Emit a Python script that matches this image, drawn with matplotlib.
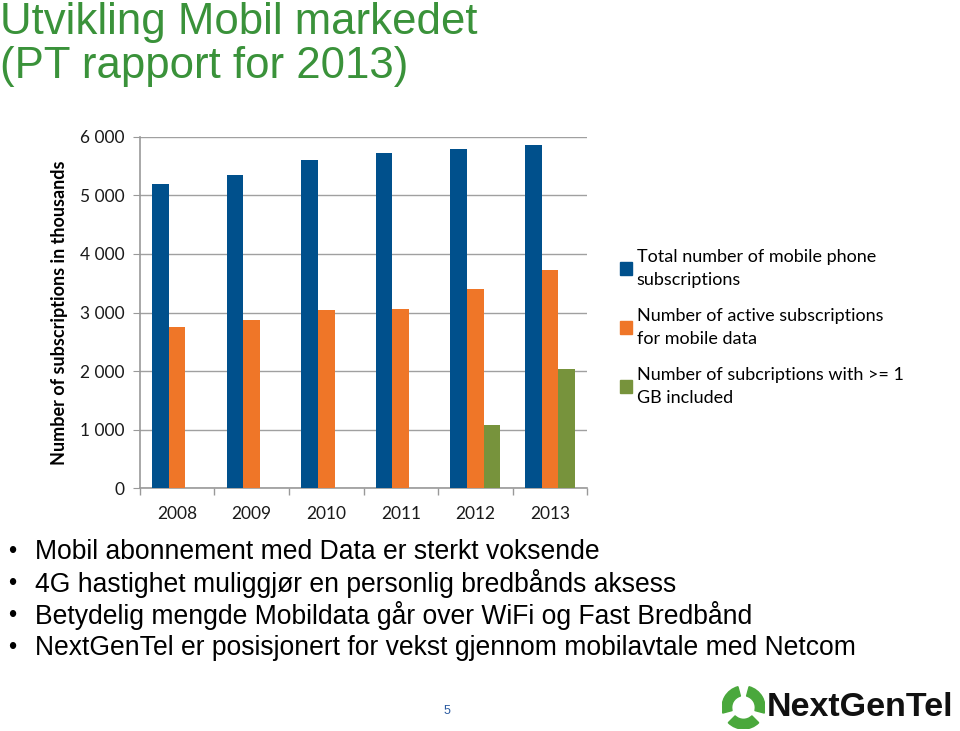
import numpy as np
import matplotlib.pyplot as plt
from matplotlib.patches import Patch, Wedge
from matplotlib.ticker import FuncFormatter, FixedLocator

years = ['2008', '2009', '2010', '2011', '2012', '2013']
total_subs = [5200, 5350, 5600, 5720, 5790, 5860]
data_subs = [2760, 2870, 3050, 3060, 3410, 3720]
gb_subs = [0, 0, 0, 0, 1070, 2030]

series_labels = ['Total number of mobile phone\nsubscriptions',
                 'Number of active subscriptions\nfor mobile data',
                 'Number of subcriptions with >= 1\nGB included']
colors = ['#00508c', '#ef7628', '#77933c']

bullets = ['Mobil abonnement med Data er sterkt voksende',
           '4G hastighet muliggjør en personlig bredbånds aksess',
           'Betydelig mengde Mobildata går over WiFi og Fast Bredbånd',
           'NextGenTel er posisjonert for vekst gjennom mobilavtale med Netcom']

fig = plt.figure(figsize=(9.6, 7.31), dpi=100)

# title
fig.text(0.0, 0.997, 'Utvikling Mobil markedet\n(PT rapport for 2013)', color='#3a923a',
         fontsize=31.5, family='Liberation Sans', va='top', ha='left', linespacing=1.08)

# chart
ax = fig.add_axes([0.1458, 0.3324, 0.4657, 0.4802])
x = np.arange(len(years))
w = 0.222
ax.bar(x - w, total_subs, w, color=colors[0], label=series_labels[0], zorder=3)
ax.bar(x, data_subs, w, color=colors[1], label=series_labels[1], zorder=3)
gx = [i for i, v in enumerate(gb_subs) if v > 0]
ax.bar(x[gx] + w, [gb_subs[i] for i in gx], w, color=colors[2], label=series_labels[2], zorder=3)

ax.set_xlim(-0.5, len(years) - 0.5)
ax.set_ylim(0, 6000)
ax.set_yticks(np.arange(0, 6001, 1000))
ax.yaxis.set_major_formatter(FuncFormatter(lambda v, p: f'{int(v):,}'.replace(',', ' ')))
ax.set_xticks(x)
ax.set_xticklabels(years)
ax.xaxis.set_minor_locator(FixedLocator(np.arange(-0.5, len(years), 1.0)))
ax.tick_params(axis='x', which='major', length=0, pad=13, labelsize=12.5)
ax.tick_params(axis='x', which='minor', length=5, color='#999999', width=1)
ax.tick_params(axis='y', length=5, color='#999999', labelsize=12.5, pad=6)
for lab in ax.get_xticklabels() + ax.get_yticklabels():
    lab.set_family('Lato')
    lab.set_color('#1a1a1a')
ax.grid(axis='y', color='#a0a0a0', linewidth=1, zorder=0)
for s in ['top', 'right']:
    ax.spines[s].set_visible(False)
for s in ['left', 'bottom']:
    ax.spines[s].set_color('#999999')
    ax.spines[s].set_linewidth(1.2)
ax.set_ylabel('Number of subscriptions in thousands', fontsize=13, fontweight='bold',
              family='Lato', labelpad=9)

handles = [Patch(color=c) for c in colors]
leg = fig.legend(handles, series_labels, loc='upper left', bbox_to_anchor=(0.636, 0.672),
                 frameon=False, prop={'family': 'Lato', 'size': 13}, handlelength=0.7,
                 handleheight=0.7, handletextpad=0.25, labelspacing=1.1, borderpad=0)
for t in leg.get_texts():
    t.set_linespacing(1.55)

# bullet list
for i, b in enumerate(bullets):
    yy = 1 - (552 + 32 * i) / 731
    fig.text(0.008, yy, '•', fontsize=17, family='Liberation Sans', va='center')
    fig.text(0.036, yy, b, fontsize=19.1, family='Liberation Sans', va='center')

# page number
fig.text(447 / 960, 1 - 711 / 731, '5', fontsize=9, color='#2a5aa0',
         family='Liberation Sans', ha='center', va='center')

# logo
lax = fig.add_axes([722 / 960, 1 - 729 / 731, 43 / 960, 43 / 731])
lax.set_xlim(-1, 1)
lax.set_ylim(-1, 1)
lax.set_aspect('equal')
lax.axis('off')
for a in [90, 210, 330]:
    lax.add_patch(Wedge((0, 0), 1, a + 15, a + 105, width=0.45, color='#4aa83c'))
fig.text(767 / 960, 1 - 708 / 731, 'NextGenTel', fontsize=24.5, fontweight='bold',
         family='Liberation Sans', ha='left', va='center', color='#111111')

fig.savefig('out.png', dpi=100)
